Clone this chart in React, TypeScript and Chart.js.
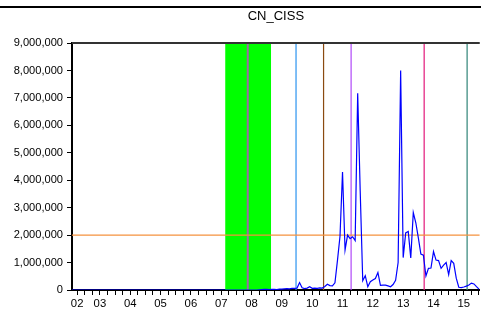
import React, { useEffect, useRef } from "react";
import { Chart, registerables } from "chart.js";

Chart.register(...registerables);

const seriesName = "CN_CISS";
const startYear = 2002;
const yearLabels = ["02", "03", "04", "05", "06", "07", "08", "09", "10", "11", "12", "13", "14", "15"];
const yTickValues = [0, 1000000, 2000000, 3000000, 4000000, 5000000, 6000000, 7000000, 8000000, 9000000];

// monthly values starting 2002m1
const cissValues = [
  // 2002-2008 (idx 0..74) flat at zero
  0, 0, 0, 0, 0, 0, 0, 0, 0, 0, 0, 0,
  0, 0, 0, 0, 0, 0, 0, 0, 0, 0, 0, 0,
  0, 0, 0, 0, 0, 0, 0, 0, 0, 0, 0, 0,
  0, 0, 0, 0, 0, 0, 0, 0, 0, 0, 0, 0,
  0, 0, 0, 0, 0, 0, 0, 0, 0, 0, 0, 0,
  0, 0, 0, 0, 0, 0, 0, 0, 0, 0, 0, 0,
  0, 0, 0,
  10000, 15000, 20000, 20000, 15000,
  20000, 20000, 15000, 30000, 30000, 40000, 50000, 40000, 60000, 60000,
  70000, 270000, 80000, 50000, 70000, 120000, 60000, 70000, 60000, 80000,
  70000, 130000, 210000, 160000, 150000, 260000, 1080000, 1960000, 4300000, 1460000,
  2000000, 1870000, 1940000, 1800000, 7170000, 3600000, 340000, 520000, 120000, 300000,
  360000, 420000, 640000, 170000, 180000, 180000, 150000, 120000, 200000, 350000,
  1000000, 8000000, 1180000, 2080000, 2130000, 1170000, 2820000, 2450000, 1900000, 1310000,
  1270000, 510000, 790000, 800000, 1400000, 1090000, 1070000, 790000, 906000, 1000000,
  560000, 1070000, 970000, 430000, 100000, 90000, 110000, 140000, 180000, 250000,
  220000, 120000, 30000,
];

const thresholdValue = 2000000;
const crisisBand = [2007.133, 2008.642];
const eventLines = [2007.875, 2009.467, 2010.375, 2011.283, 2013.692, 2015.108];
const eventColors = ["#a066a8", "#2a93f0", "#8a4a10", "#b048f8", "#e2187a", "#2f8478"];
const eventWidths = [2, 1.2, 1.2, 1.2, 1.2, 1.2];

const xMin = 2002.08;
const xMax = 2015.525;

const FONT = "'Liberation Sans', Arial, Helvetica, sans-serif";

const overlayPlugin = {
  id: "overlay",
  beforeDatasetsDraw(chart: any) {
    const { ctx, chartArea: a, scales } = chart;
    const x = scales.x;
    const y = scales.y;
    ctx.save();
    ctx.beginPath();
    ctx.rect(a.left, a.top, a.right - a.left, a.bottom - a.top);
    ctx.clip();
    const x0 = x.getPixelForValue(crisisBand[0]);
    const x1 = x.getPixelForValue(crisisBand[1]);
    ctx.fillStyle = "#00ff00";
    ctx.fillRect(x0, a.top, x1 - x0, a.bottom - a.top);
    eventLines.forEach((v, i) => {
      const px = x.getPixelForValue(v);
      ctx.strokeStyle = eventColors[i];
      ctx.lineWidth = eventWidths[i];
      ctx.beginPath();
      ctx.moveTo(px, a.top);
      ctx.lineTo(px, a.bottom);
      ctx.stroke();
    });
    const yy = y.getPixelForValue(thresholdValue);
    ctx.strokeStyle = "#f5923e";
    ctx.lineWidth = 1.2;
    ctx.beginPath();
    ctx.moveTo(a.left, yy);
    ctx.lineTo(a.right, yy);
    ctx.stroke();
    ctx.restore();
  },
  afterDraw(chart: any) {
    const { ctx, chartArea: a, width } = chart;
    ctx.save();
    ctx.strokeStyle = "#333333";
    ctx.lineWidth = 2;
    ctx.beginPath();
    ctx.moveTo(a.left, a.top);
    ctx.lineTo(a.right, a.top);
    ctx.stroke();
    // outer frame line of the enclosing figure
    ctx.strokeStyle = "#000000";
    ctx.lineWidth = 2;
    ctx.beginPath();
    ctx.moveTo(0, 7);
    ctx.lineTo(width, 7);
    ctx.stroke();
    ctx.restore();
  },
};

export default function App() {
  const ref = useRef<HTMLCanvasElement | null>(null);

  useEffect(() => {
    if (!ref.current) return;
    const points = cissValues.map((v, i) => ({ x: startYear + i / 12, y: v }));
    const quarterTicks: number[] = [];
    for (let q = 1; startYear + q / 4 <= xMax; q++) quarterTicks.push(startYear + q / 4);

    const chart = new Chart(ref.current, {
      type: "line",
      data: {
        datasets: [
          {
            label: seriesName,
            data: points,
            borderColor: "#0000ff",
            borderWidth: 1.2,
            pointRadius: 0,
            tension: 0,
            fill: false,
          },
        ],
      },
      options: {
        animation: false,
        responsive: false,
        devicePixelRatio: 1,
        layout: { padding: 0 },
        plugins: {
          legend: { display: false },
          tooltip: { enabled: false },
          title: {
            display: true,
            fullSize: false,
            text: seriesName,
            color: "#000",
            font: { family: FONT, size: 13, weight: "normal" },
            padding: { top: 9, bottom: 18.4 },
          },
        },
        scales: {
          x: {
            type: "linear",
            min: xMin,
            max: xMax,
            afterBuildTicks: (scale: any) => {
              scale.ticks = quarterTicks.map((v) => ({ value: v }));
            },
            afterFit: (scale: any) => {
              scale.height = 32;
            },
            grid: {
              display: true,
              drawOnChartArea: false,
              drawTicks: true,
              tickLength: 5,
              color: "#000",
              lineWidth: 1,
            },
            border: { display: true, color: "#000", width: 2 },
            ticks: {
              autoSkip: false,
              maxRotation: 0,
              minRotation: 0,
              padding: 2,
              color: "#000",
              font: { family: FONT, size: 11.3 },
              callback: (value: any, index: number) => {
                const v = Number(value);
                if (index === 0) return yearLabels[0];
                if (Math.abs(v - Math.round(v)) < 1e-6) {
                  return yearLabels[Math.round(v) - startYear] ?? "";
                }
                return "";
              },
            },
          },
          y: {
            type: "linear",
            min: 0,
            max: 9000000,
            afterBuildTicks: (scale: any) => {
              scale.ticks = yTickValues.map((v) => ({ value: v }));
            },
            afterFit: (scale: any) => {
              scale.width = 72;
            },
            grid: {
              display: true,
              drawOnChartArea: false,
              drawTicks: true,
              tickLength: 5,
              color: "#000",
              lineWidth: 1,
            },
            border: { display: true, color: "#000", width: 2 },
            ticks: {
              padding: 4,
              color: "#000",
              font: { family: FONT, size: 11.1 },
              callback: (value: any) => Number(value).toLocaleString("en-US"),
            },
          },
        },
      },
      plugins: [overlayPlugin],
    } as any);

    return () => chart.destroy();
  }, []);

  return (
    <div style={{ position: "absolute", left: 0, top: 0, width: 481, height: 322, background: "#fff", overflow: "hidden" }}>
      <canvas ref={ref} width={481} height={322} style={{ display: "block" }} />
    </div>
  );
}
